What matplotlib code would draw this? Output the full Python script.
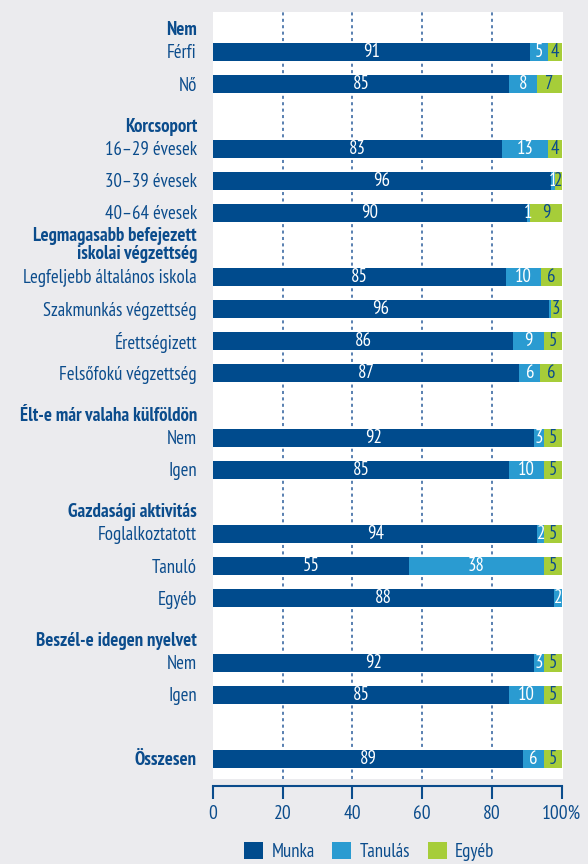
import matplotlib.pyplot as plt
import numpy as np

plt.rcParams['font.family'] = ['PT Sans Narrow', 'DejaVu Sans']

headers = ['Nem', 'Korcsoport', 'Legmagasabb befejezett\niskolai végzettség',
           'Élt-e már valaha külföldön', 'Gazdasági aktivitás',
           'Beszél-e idegen nyelvet', None]
groups = [['Férfi', 'Nő'],
          ['16–29 évesek', '30–39 évesek', '40–64 évesek'],
          ['Legfeljebb általános iskola', 'Szakmunkás végzettség', 'Érettségizett', 'Felsőfokú végzettség'],
          ['Nem', 'Igen'],
          ['Foglalkoztatott', 'Tanuló', 'Egyéb'],
          ['Nem', 'Igen'],
          ['Összesen']]

munka = [91, 85, 83, 96, 90, 85, 96, 86, 87, 92, 85, 94, 55, 88, 92, 85, 89]
tanulas = [5, 8, 13, 1, 1, 10, 0.6, 9, 6, 3, 10, 2, 38, 2, 3, 10, 6]
egyeb = [4, 7, 4, 2, 9, 6, 3, 5, 6, 5, 5, 5, 5, 0, 5, 5, 5]

series = ['Munka', 'Tanulás', 'Egyéb']
colors = ['#004B8D', '#2A9BD1', '#A6CD39']
text_colors = ['white', 'white', '#0B4C8C']
dark = '#0B4C8C'
bg = '#EBEBEE'
fs = 13.5

# row positions: one row per item, an extra row between groups
pos = []
cats = []
header_pos = []
r = 0
for g in groups:
    header_pos.append(r)
    for it in g:
        pos.append(r)
        cats.append(it)
        r += 1
    r += 1
pos = np.array(pos)

# bars are shown as shares of 100%
data = np.array([munka, tanulas, egyeb], dtype=float)
shares = data / data.sum(axis=0) * 100

fig = plt.figure(figsize=(5.88, 8.64), dpi=100, facecolor=bg)
ax = fig.add_axes([213 / 588, 1 - 779 / 864, 350 / 588, 767 / 864])
ax.set_facecolor('white')

for x in [20, 40, 60, 80]:
    ax.axvline(x, color='#2B5D9B', lw=1.1, dashes=(2, 2.2), zorder=0)

left = np.zeros(len(pos))
for vals, sh, c, tc, name in zip(data, shares, colors, text_colors, series):
    ax.barh(pos, sh, left=left, height=0.56, color=c, label=name, zorder=2)
    for y, l, v, s in zip(pos, left, vals, sh):
        if v >= 1:
            ax.text(l + s / 2, y, f'{v:.0f}', ha='center', va='center', color=tc,
                    fontsize=fs, zorder=3)
    left += sh

ax.set_xlim(0, 100.4)
ax.set_ylim(22.62, -1.25)
ax.set_yticks([])

tr = ax.get_yaxis_transform()
for y, c in zip(pos, cats):
    bold = c == 'Összesen'
    ax.text(-0.046, y + 0.04, c, transform=tr, ha='right', va='center', color=dark,
            fontsize=fs, fontweight='bold' if bold else 'normal')
for h, hp in zip(headers, header_pos):
    if h is None:
        continue
    n = h.count('\n') + 1
    ax.text(-0.046, hp - 0.68 - 0.31 * (n - 1), h, transform=tr, ha='right', va='center',
            color=dark, fontsize=fs, fontweight='bold', linespacing=1.0)

for s in ['top', 'right', 'left']:
    ax.spines[s].set_visible(False)
ax.spines['bottom'].set_position(('outward', 5))
ax.spines['bottom'].set_color(dark)
ax.spines['bottom'].set_linewidth(1.5)
ax.spines['bottom'].set_bounds(0, 100)
ax.set_xticks([0, 20, 40, 60, 80, 100])
ax.set_xticklabels(['0', '20', '40', '60', '80', '100%'])
ax.tick_params(axis='x', length=9.5, width=1.5, color=dark, labelcolor=dark, labelsize=fs + 0.5, pad=4)

fig.legend(loc='center', bbox_to_anchor=(0.628, 0.014), ncol=3, frameon=False,
           handlelength=1.0, handleheight=1.0, handletextpad=0.45, columnspacing=0.95,
           labelcolor=dark, fontsize=fs)

fig.savefig('out.png', dpi=100, facecolor=bg)
